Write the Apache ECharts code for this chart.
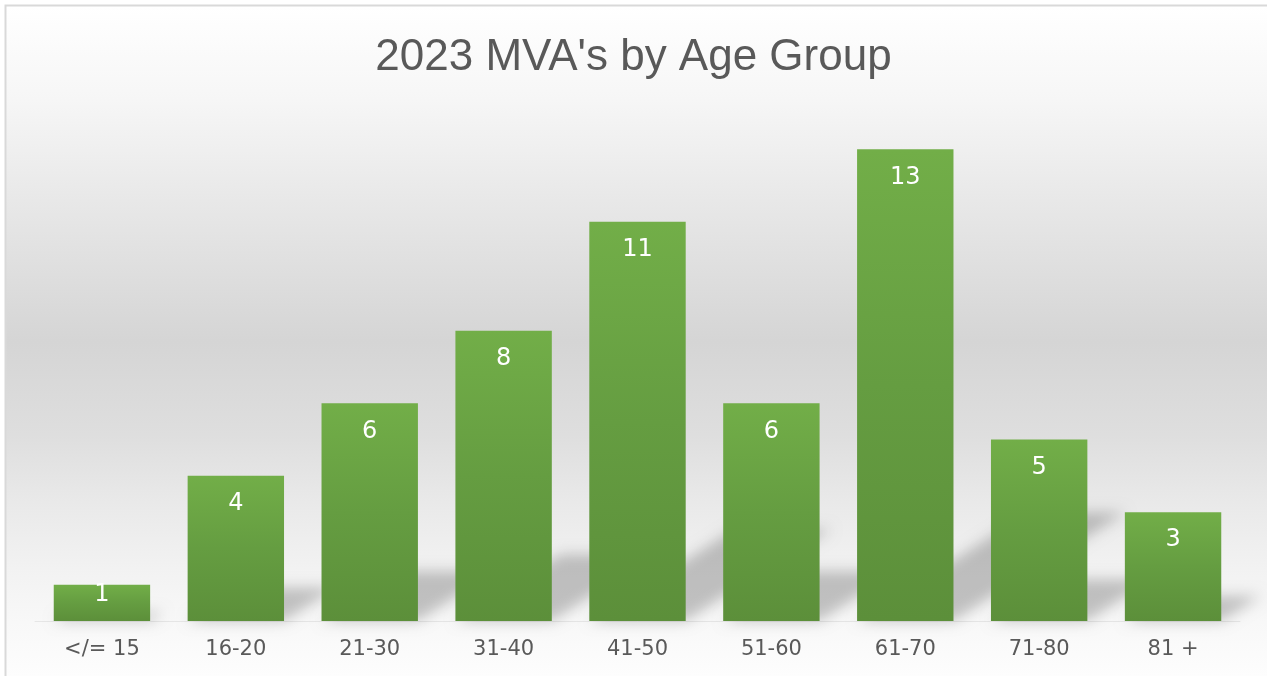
<!DOCTYPE html>
<html>
<head>
<meta charset="utf-8">
<script src="https://cdn.jsdelivr.net/npm/echarts@6/dist/echarts.min.js"></script>
<style>
  html, body { margin: 0; padding: 0; background: #ffffff; }
  #chart { width: 1267px; height: 676px; }
</style>
</head>
<body>
<div id="chart"></div>
<script>
var chartTitle = "2023 MVA's by Age Group";
var ageGroups = ['</= 15', '16-20', '21-30', '31-40', '41-50', '51-60', '61-70', '71-80', '81 +'];
var mvaCounts = [1, 4, 6, 8, 11, 6, 13, 5, 3];

var BAR_RATIO = 0.72;

var chart = echarts.init(document.getElementById('chart'));

// perspective shadow behind each bar (diagonal upper right)
function renderShadow(params, api) {
    var i = api.value(0);
    var v = api.value(1);
    var base = api.coord([i, 0]);
    var top = api.coord([i, v]);
    var w = api.size([1, 0])[0] * BAR_RATIO;
    var h = base[1] - top[1];
    var x0 = base[0] - w / 2, x1 = base[0] + w / 2, y = base[1];
    var dx = h * 0.364, dy = h * 0.23;
    var off = 3000;
    return {
        type: 'polygon',
        shape: {
            points: [[x0 - off, y], [x1 - off, y], [x1 + dx - off, y - dy], [x0 + dx - off, y - dy]]
        },
        style: {
            fill: '#000',
            shadowColor: 'rgba(0,0,0,0.22)',
            shadowBlur: 14,
            shadowOffsetX: off,
            shadowOffsetY: 0
        },
        silent: true
    };
}

// short bars: Excel squeezes the label up so it still fits
var barData = mvaCounts.map(function (v) {
    return v <= 1 ? { value: v, label: { distance: -2 } } : v;
});

var option = {
    backgroundColor: '#ffffff',
    animation: false,
    graphic: [
        {
            type: 'rect',
            z: -10,
            silent: true,
            shape: { x: 6, y: 6, width: 1261, height: 670 },
            style: {
                fill: new echarts.graphic.LinearGradient(0, 0, 0, 1, [
                    { offset: 0, color: '#ffffff' },
                    { offset: 0.14, color: '#f6f6f6' },
                    { offset: 0.29, color: '#e8e8e8' },
                    { offset: 0.5, color: '#d5d5d5' },
                    { offset: 0.64, color: '#dedede' },
                    { offset: 0.74, color: '#e9e9e9' },
                    { offset: 0.84, color: '#f2f2f2' },
                    { offset: 0.92, color: '#f8f8f8' },
                    { offset: 1, color: '#fdfdfd' }
                ])
            }
        },
        {
            type: 'polyline',
            z: -5,
            silent: true,
            shape: { points: [[5.5, 676], [5.5, 5.5], [1267, 5.5]] },
            style: { stroke: '#d9d9d9', lineWidth: 2, fill: null }
        }
    ],
    title: {
        text: chartTitle,
        left: 'center',
        top: 31,
        textStyle: {
            fontFamily: 'Liberation Sans',
            fontSize: 44,
            fontWeight: 'normal',
            color: '#595959'
        }
    },
    grid: {
        left: 35,
        right: 27,
        top: 113,
        bottom: 55
    },
    xAxis: {
        type: 'category',
        data: ageGroups,
        axisTick: { show: false },
        axisLine: { show: true, lineStyle: { color: '#e6e6e6', width: 1 } },
        axisLabel: {
            color: '#595959',
            fontFamily: 'DejaVu Sans',
            fontSize: 21,
            margin: 18
        }
    },
    yAxis: {
        type: 'value',
        min: 0,
        max: 14,
        show: false,
        splitLine: { show: false }
    },
    series: [
        {
            type: 'custom',
            z: 1,
            renderItem: renderShadow,
            data: mvaCounts.map(function (v, i) { return [i, v]; }),
            silent: true
        },
        {
            type: 'bar',
            z: 3,
            data: barData,
            barWidth: (BAR_RATIO * 100) + '%',
            itemStyle: {
                color: new echarts.graphic.LinearGradient(0, 0, 0, 1, [
                    { offset: 0, color: '#72ae48' },
                    { offset: 0.5, color: '#659d41' },
                    { offset: 1, color: '#5c8f3a' }
                ])
            },
            label: {
                show: true,
                position: 'insideTop',
                distance: 16,
                color: '#ffffff',
                fontFamily: 'DejaVu Sans',
                fontSize: 24
            }
        }
    ]
};

chart.setOption(option, true);
</script>
</body>
</html>
